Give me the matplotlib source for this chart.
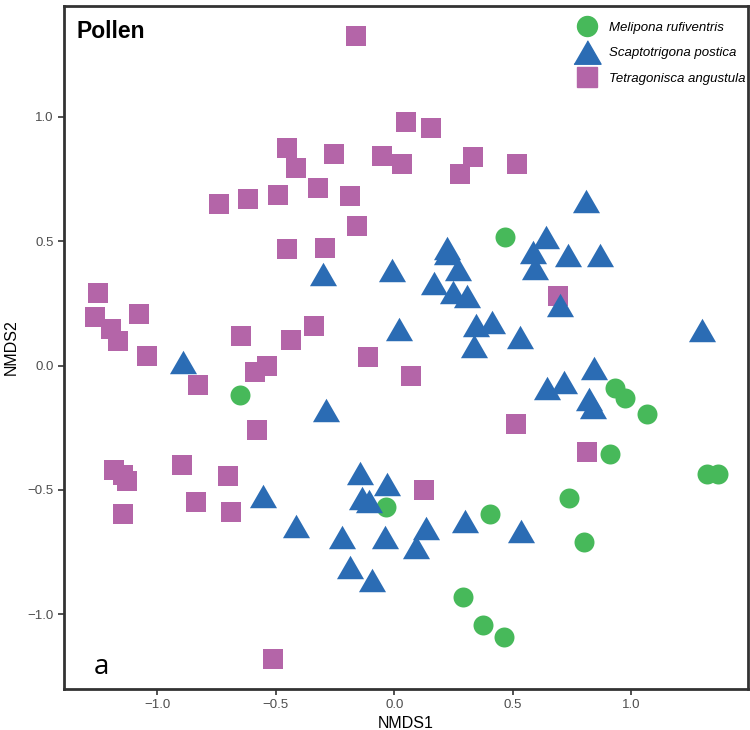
import matplotlib
matplotlib.use("Agg")
import matplotlib.pyplot as plt
from matplotlib.lines import Line2D

# NMDS scores
melipona_x = [0.466, -0.652, 0.930, 0.975, 1.068, 0.909, 1.320, 1.364, 0.735,
              0.801, -0.037, 0.403, 0.290, 0.376, 0.462]
melipona_y = [0.519, -0.119, -0.091, -0.131, -0.193, -0.354, -0.435, -0.437, -0.531,
              -0.710, -0.567, -0.596, -0.929, -1.043, -1.092]

scapto_x = [-0.893, -0.303, -0.012, 0.220, 0.223, 0.267, 0.168, 0.248, 0.305, 0.345,
            0.414, 0.335, 0.020, -0.290, 0.808, 0.586, 0.734, 0.867, 0.594, 0.639,
            0.700, 1.300, 0.530, 0.843, 0.714, 0.642, 0.822, 0.840, 0.535, -0.553,
            -0.146, -0.029, -0.138, -0.105, -0.416, -0.219, -0.039, 0.133, 0.092,
            0.296, -0.188, -0.095]
scapto_y = [0.015, 0.369, 0.385, 0.472, 0.452, 0.387, 0.331, 0.295, 0.281, 0.164,
            0.175, 0.080, 0.146, -0.177, 0.661, 0.458, 0.445, 0.445, 0.393, 0.518,
            0.244, 0.144, 0.117, -0.009, -0.067, -0.091, -0.136, -0.165, -0.666, -0.525,
            -0.431, -0.475, -0.534, -0.545, -0.645, -0.689, -0.687, -0.651, -0.730,
            -0.624, -0.809, -0.862]

tetra_x = [-0.162, 0.049, 0.154, -0.454, -0.416, -0.255, -0.053, 0.032, 0.331, 0.276,
           0.517, -0.741, -0.618, -0.492, -0.323, -0.188, -0.158, -0.454, -0.293, -1.251,
           -1.264, -1.196, -1.167, -1.078, -1.044, -0.648, -0.437, -0.340, -0.112, -0.589,
           -0.538, -0.829, 0.070, -0.580, 0.690, 0.513, 0.814, -1.182, -1.147, -1.127,
           -1.144, -0.895, -0.836, -0.701, -0.689, 0.126, -0.511]
tetra_y = [1.326, 0.980, 0.956, 0.876, 0.795, 0.851, 0.843, 0.811, 0.839, 0.771,
           0.811, 0.650, 0.670, 0.686, 0.715, 0.682, 0.562, 0.469, 0.473, 0.292,
           0.196, 0.147, 0.099, 0.208, 0.039, 0.120, 0.103, 0.160, 0.035, -0.025,
           -0.001, -0.079, -0.041, -0.258, 0.281, -0.234, -0.348, -0.419, -0.440, -0.465,
           -0.598, -0.400, -0.547, -0.445, -0.590, -0.501, -1.181]

species = ["Melipona rufiventris", "Scaptotrigona postica", "Tetragonisca angustula"]
colors = ["#47b95a", "#2b6cb4", "#b465a8"]
ticks = [-1.0, -0.5, 0.0, 0.5, 1.0]
tick_labels = ["\u22121.0", "\u22120.5", "0.0", "0.5", "1.0"]

plt.rcParams["font.family"] = ["Liberation Sans", "DejaVu Sans"]

# equilateral-ish triangle like ggplot shape 17
tri = [(-1, -0.866), (1, -0.866), (0, 0.866)]

fig = plt.figure(figsize=(7.5, 7.3), dpi=100)
ax = fig.add_axes([0.0853, 0.0562, 0.912, 0.9356])

ax.scatter(tetra_x, tetra_y, marker="s", s=228, c=colors[2], linewidths=0, zorder=2)
ax.scatter(melipona_x, melipona_y, marker="o", s=207, c=colors[0], linewidths=0, zorder=3)
ax.scatter(scapto_x, scapto_y, marker=tri, s=380, c=colors[1], linewidths=0, zorder=4)

ax.set_xlim(-1.394, 1.492)
ax.set_ylim(-1.300, 1.446)
ax.set_xticks(ticks)
ax.set_xticklabels(tick_labels)
ax.set_yticks(ticks)
ax.set_yticklabels(tick_labels)
ax.tick_params(direction="out", length=4, width=1.2, color="#333333",
               labelsize=9.5, labelcolor="#4d4d4d")
for sp in ax.spines.values():
    sp.set_linewidth(2)
    sp.set_color("#333333")

ax.set_xlabel("NMDS1", fontsize=11.5, labelpad=3)
ax.set_ylabel("NMDS2", fontsize=11.5, labelpad=6)

ax.text(0.0186, 0.979, "Pollen", transform=ax.transAxes, fontsize=16.5,
        fontweight="bold", va="top", ha="left")
ax.text(-1.235, -1.21, "a", fontsize=20, family="Open Sans", ha="center", va="center")

handles = [
    Line2D([], [], marker="o", color=colors[0], linestyle="", markersize=14.4),
    Line2D([], [], marker=tri, color=colors[1], linestyle="", markersize=19.5),
    Line2D([], [], marker="s", color=colors[2], linestyle="", markersize=15.1),
]
leg = ax.legend(handles, species, loc="upper right", bbox_to_anchor=(1.006, 0.987),
                frameon=False, prop={"style": "italic", "size": 9.5},
                handletextpad=0.9, labelspacing=1.0, borderaxespad=0.2,
                borderpad=0.3, handlelength=1.5)

fig.savefig("out.png", dpi=100)
